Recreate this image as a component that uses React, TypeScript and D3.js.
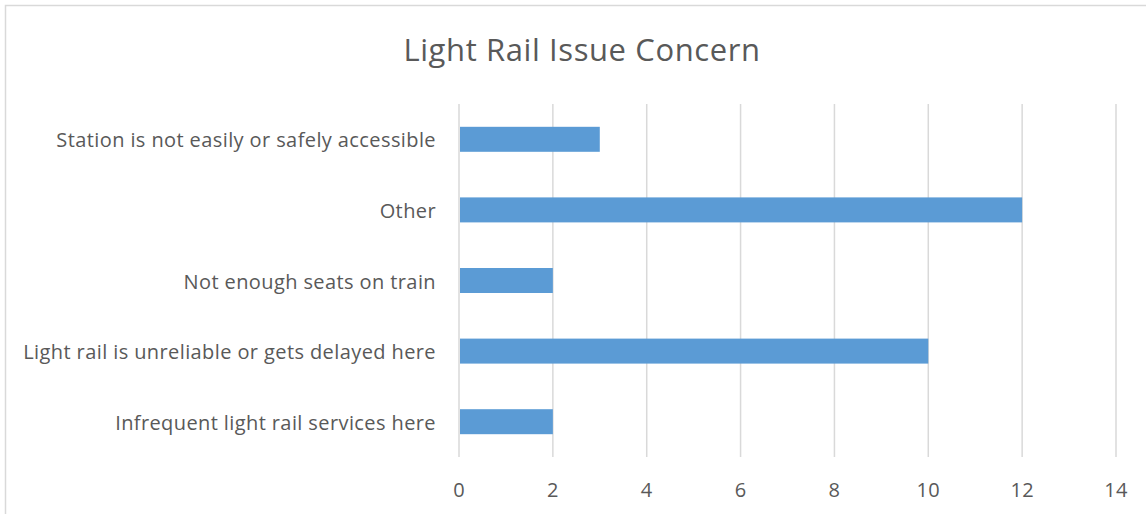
import React from "react";
import * as d3 from "d3";

const categories = [
  "Station is not easily or safely accessible",
  "Other",
  "Not enough seats on train",
  "Light rail is unreliable or gets delayed here",
  "Infrequent light rail services here",
];
const values = [3, 12, 2, 10, 2];
const xTicks = [0, 2, 4, 6, 8, 10, 12, 14];
const title = "Light Rail Issue Concern";

const W = 1146;
const H = 514;
const FONT = "'Open Sans', 'DejaVu Sans', sans-serif";

export default function App() {
  const x = d3.scaleLinear().domain([0, 14]).range([459, 1116]);
  const y = d3.scaleBand<string>().domain(categories).range([104, 457]).paddingInner(0.646).paddingOuter(0.323);
  return (
    <div style={{ position: "fixed", left: 0, top: 0 }}>
      <svg width={W} height={H} style={{ display: "block", background: "#fff" }}>
        <rect x={5.5} y={5.5} width={W + 10} height={H + 10} fill="#fff" stroke="#d9d9d9" strokeWidth={1.5} />
        <text x={582} y={61} textAnchor="middle" fontFamily={FONT} fontSize={31} letterSpacing={0.6} fill="#595959">
          {title}
        </text>
        {xTicks.map((t) => (
          <g key={t}>
            <line x1={x(t)} x2={x(t)} y1={104} y2={457} stroke="#d9d9d9" strokeWidth={1.5} />
            <text x={x(t)} y={497} textAnchor="middle" fontFamily={FONT} fontSize={20} letterSpacing={0.3} fill="#595959">
              {t}
            </text>
          </g>
        ))}
        {categories.map((c, i) => (
          <g key={c}>
            <rect x={x(0) + 1} y={y(c)!} width={x(values[i]) - x(0) - 1} height={y.bandwidth()} fill="#5b9bd5" />
            <text
              x={436}
              y={y(c)! + y.bandwidth() / 2 + 1}
              dy="0.35em"
              textAnchor="end"
              fontFamily={FONT}
              fontSize={20}
              letterSpacing={0.4}
              fill="#595959"
            >
              {c}
            </text>
          </g>
        ))}
      </svg>
    </div>
  );
}
